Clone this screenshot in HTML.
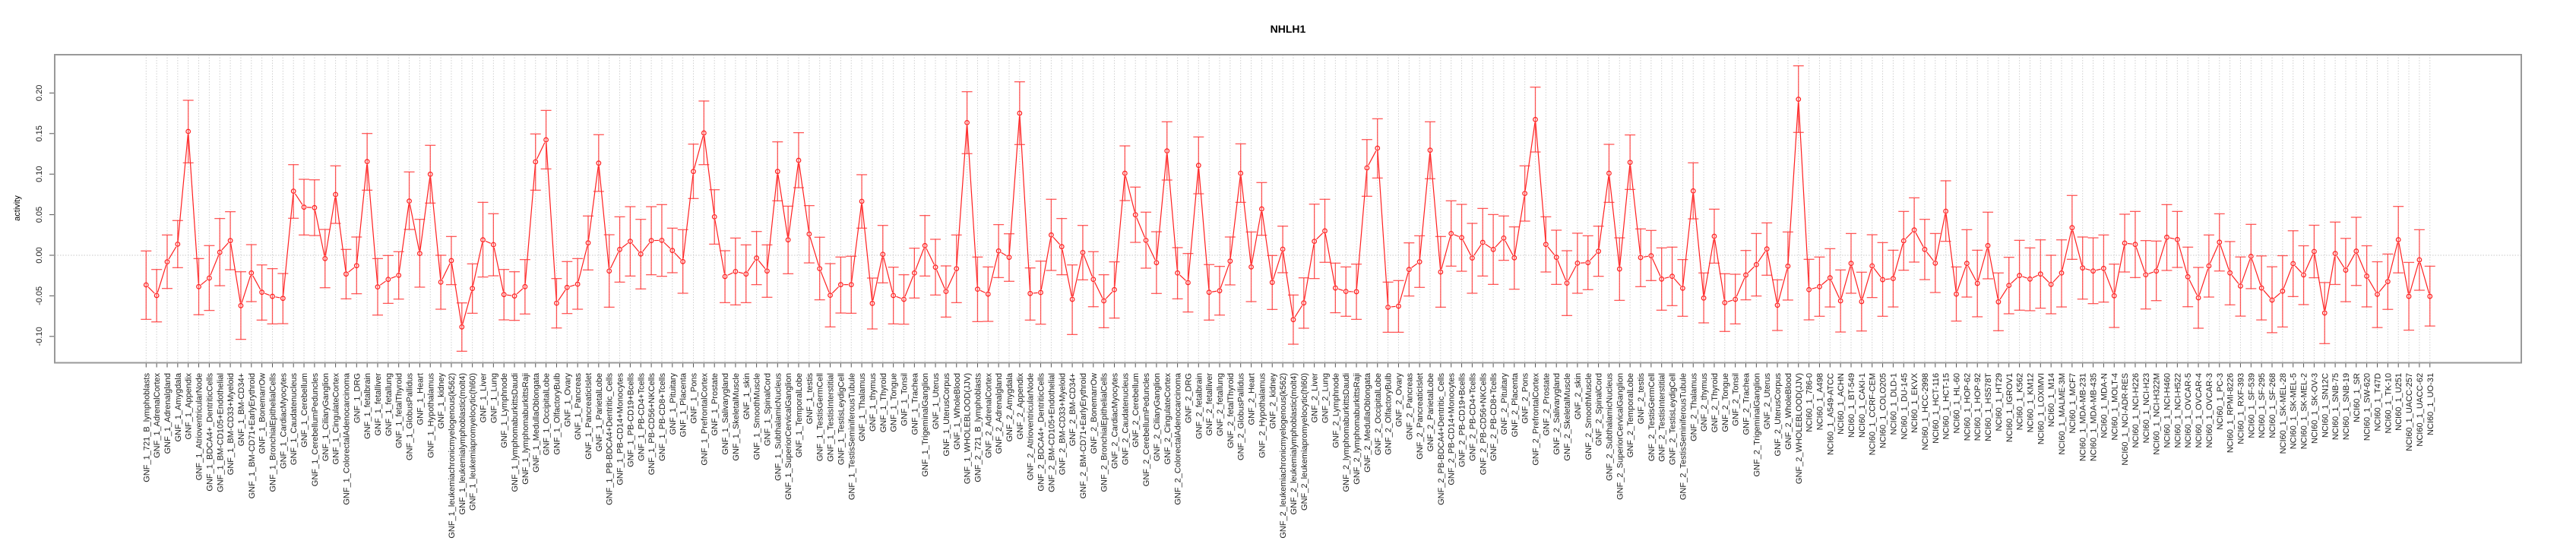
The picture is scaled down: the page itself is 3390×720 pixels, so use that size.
<!DOCTYPE html>
<html><head><meta charset="utf-8"><title>NHLH1</title>
<style>
html,body{margin:0;padding:0;background:#fff;}
svg{display:block;font-family:"Liberation Sans",Arial,sans-serif;}
</style></head>
<body>
<svg id="chart" width="3390" height="720" viewBox="0 0 3390 720" xmlns="http://www.w3.org/2000/svg">
<text x="1695" y="43" text-anchor="middle" font-size="14" font-weight="bold">NHLH1</text>
<text transform="translate(26,274) rotate(-90)" text-anchor="middle" font-size="11">activity</text>
<g id="grid"></g>
<g id="yaxis"></g>
<g id="xaxis"></g>
<g id="series"></g>
<rect x="72" y="72" width="3246" height="405.5" fill="none" stroke="#999" stroke-width="2"/>
</svg>
<script>
const tissues = ["721_B_lymphoblasts","AdrenalCortex","Adrenalgland","Amygdala","Appendix","AtrioventricularNode","BDCA4+_DentriticCells","BM-CD105+Endothelial","BM-CD33+Myeloid","BM-CD34+","BM-CD71+EarlyErythroid","BonemarrOw","BronchialEpithelialCells","CardiacMyocytes","Caudatenucleus","Cerebellum","CerebellumPeduncles","CiliaryGanglion","CingulateCortex","ColorectalAdenocarcinoma","DRG","fetalbrain","fetalliver","fetallung","fetalThyroid","GlobusPallidus","Heart","Hypothalamus","kidney","leukemiachronicmyelogenous(k562)","leukemialymphoblastic(molt4)","leukemiapromyelocytic(hl60)","Liver","Lung","Lymphnode","lymphomaburkittsDaudi","lymphomaburkittsRaji","MedullaOblongata","OccipitalLobe","OlfactoryBulb","Ovary","Pancreas","PancreaticIslet","ParietalLobe","PB-BDCA4+Dentritic_Cells","PB-CD14+Monocytes","PB-CD19+Bcells","PB-CD4+Tcells","PB-CD56+NKCells","PB-CD8+Tcells","Pituitary","Placenta","Pons","PrefrontalCortex","Prostate","Salivarygland","SkeletalMuscle","skin","SmoothMuscle","SpinalCord","SubthalamicNucleus","SuperiorCervicalGanglion","TemporalLobe","testis","TestisGermCell","TestisInterstitial","TestisLeydigCell","TestisSeminiferousTubule","Thalamus","thymus","Thyroid","Tongue","Tonsil","Trachea","TrigeminalGanglion","Uterus","UterusCorpus","WholeBlood","WHOLEBLOOD(JJV)"];
const nci60 = ["786-0","A498","A549-ATCC","ACHN","BT-549","CAKI-1","CCRF-CEM","COLO205","DLD-1","DU-145","EKVX","HCC-2998","HCT-116","HCT-15","HL-60","HOP-62","HOP-92","HS578T","HT29","IGROV1","K562","KM12","LOXIMVI","M14","MALME-3M","MCF7","MDA-MB-231","MDA-MB-435","MDA-N","MOLT-4","NCI-ADR-RES","NCI-H226","NCI-H23","NCI-H322M","NCI-H460","NCI-H522","OVCAR-5","OVCAR-4","OVCAR-3","PC-3","RPMI-8226","RXF-393","SF-539","SF-295","SF-268","SK-MEL-28","SK-MEL-5","SK-MEL-2","SK-OV-3","SN12C","SNB-75","SNB-19","SR","SW-620","T47D","TK-10","U251","UACC-257","UACC-62","UO-31"];
const categories = tissues.map(t => "GNF_1_" + t).concat(tissues.map(t => "GNF_2_" + t)).concat(nci60.map(t => "NCI60_1_" + t));

const means = [-0.0365,-0.0496,-0.0081,0.0137,0.1526,-0.0387,-0.0281,0.0037,0.0181,-0.0621,-0.0218,-0.0456,-0.0506,-0.0531,0.0790,0.0593,0.0587,-0.0041,0.0749,-0.0231,
-0.0128,0.1155,-0.0390,-0.0297,-0.0247,0.0668,0.0022,0.0999,-0.0331,-0.0066,-0.0883,-0.0409,0.0190,0.0131,-0.0484,-0.0502,-0.0387,0.1152,0.1423,-0.0590,
-0.0396,-0.0356,0.0153,0.1136,-0.0194,0.0072,0.0172,0.0016,0.0181,0.0184,0.0059,-0.0078,0.1033,0.1507,0.0474,-0.0262,-0.0200,-0.0231,-0.0034,-0.0194,
0.1033,0.0190,0.1170,0.0262,-0.0165,-0.0493,-0.0362,-0.0362,0.0665,-0.0593,0.0012,-0.0496,-0.0543,-0.0218,0.0119,-0.0147,-0.0446,-0.0165,0.1635,-0.0418,
-0.0478,0.0053,-0.0025,0.1751,-0.0471,-0.0459,0.0250,0.0106,-0.0543,0.0034,-0.0297,-0.0562,-0.0424,0.1011,0.0499,0.0184,-0.0091,0.1286,-0.0218,-0.0337,
0.1108,-0.0456,-0.0437,-0.0072,0.1011,-0.0144,0.0571,-0.0334,0.0075,-0.0793,-0.0587,0.0172,0.0300,-0.0403,-0.0446,-0.0449,0.1077,0.1320,-0.0640,-0.0627,
-0.0175,-0.0081,0.1295,-0.0206,0.0268,0.0218,-0.0034,0.0159,0.0072,0.0212,-0.0031,0.0762,0.1673,0.0134,-0.0025,-0.0343,-0.0097,-0.0091,0.0050,0.1011,
-0.0169,0.1145,-0.0028,-0.0006,-0.0293,-0.0259,-0.0406,0.0793,-0.0527,0.0234,-0.0584,-0.0543,-0.0243,-0.0115,0.0078,-0.0615,-0.0134,0.1923,-0.0424,-0.0387,
-0.0278,-0.0562,-0.0100,-0.0571,-0.0131,-0.0300,-0.0287,0.0178,0.0312,0.0072,-0.0097,0.0543,-0.0478,-0.0100,-0.0346,0.0119,-0.0574,-0.0371,-0.0250,-0.0293,
-0.0231,-0.0359,-0.0218,0.0340,-0.0156,-0.0194,-0.0162,-0.0499,0.0150,0.0134,-0.0240,-0.0194,0.0222,0.0194,-0.0265,-0.0524,-0.0131,0.0161,-0.0217,-0.0379,
-0.0013,-0.0403,-0.0552,-0.0442,-0.0103,-0.0242,0.0047,-0.0711,0.0022,-0.0183,0.0051,-0.0257,-0.0481,-0.0324,0.0192,-0.0506,-0.0056,-0.0506];

const uppers = [0.0053,-0.0175,0.0250,0.0428,0.1910,-0.0041,0.0119,0.0453,0.0537,-0.0203,0.0131,-0.0119,-0.0165,-0.0225,0.1117,0.0936,0.0930,0.0318,0.1102,0.0072,
0.0225,0.1501,-0.0041,-0.0003,0.0044,0.1027,0.0443,0.1355,0.0000,0.0231,-0.0587,-0.0106,0.0652,0.0512,-0.0175,-0.0203,-0.0053,0.1495,0.1785,-0.0287,
-0.0078,-0.0041,0.0484,0.1486,0.0253,0.0474,0.0599,0.0443,0.0599,0.0624,0.0334,0.0315,0.1370,0.1901,0.0808,0.0056,0.0212,0.0128,0.0293,0.0128,
0.1398,0.0605,0.1511,0.0612,0.0222,-0.0103,-0.0022,-0.0012,0.0993,-0.0281,0.0368,-0.0147,-0.0240,0.0087,0.0490,0.0197,-0.0131,0.0250,0.2016,-0.0022,
-0.0144,0.0378,0.0265,0.2138,-0.0156,-0.0072,0.0690,0.0453,-0.0119,0.0368,0.0044,-0.0240,-0.0081,0.1348,0.0840,0.0531,0.0290,0.1645,0.0094,0.0022,
0.1458,-0.0115,-0.0137,0.0225,0.1373,0.0287,0.0896,-0.0003,0.0359,-0.0490,-0.0278,0.0630,0.0690,-0.0097,-0.0144,-0.0109,0.1426,0.1682,-0.0331,-0.0312,
0.0153,0.0240,0.1645,0.0231,0.0671,0.0627,0.0393,0.0577,0.0502,0.0484,0.0350,0.1102,0.2072,0.0474,0.0309,0.0056,0.0272,0.0240,0.0359,0.1367,
0.0215,0.1483,0.0325,0.0306,0.0091,0.0100,-0.0053,0.1139,-0.0218,0.0568,-0.0228,-0.0234,0.0059,0.0268,0.0399,-0.0303,0.0287,0.2335,-0.0050,-0.0022,
0.0081,-0.0181,0.0268,-0.0209,0.0253,0.0156,0.0062,0.0540,0.0708,0.0443,0.0268,0.0918,-0.0144,0.0315,0.0062,0.0531,-0.0218,-0.0025,0.0184,0.0091,
0.0190,0.0000,0.0190,0.0737,0.0225,0.0215,0.0250,-0.0109,0.0506,0.0540,0.0181,0.0175,0.0624,0.0540,0.0100,-0.0150,0.0250,0.0511,0.0169,-0.0021,
0.0381,-0.0008,-0.0142,-0.0005,0.0302,0.0117,0.0370,-0.0336,0.0409,0.0208,0.0468,0.0117,-0.0080,0.0015,0.0602,-0.0088,0.0315,-0.0135];

const lowers = [-0.0790,-0.0821,-0.0409,-0.0153,0.1139,-0.0733,-0.0680,-0.0375,-0.0178,-0.1036,-0.0571,-0.0799,-0.0846,-0.0843,0.0456,0.0250,0.0243,-0.0400,0.0393,-0.0537,
-0.0474,0.0802,-0.0737,-0.0593,-0.0540,0.0318,-0.0393,0.0643,-0.0665,-0.0362,-0.1183,-0.0715,-0.0268,-0.0253,-0.0796,-0.0802,-0.0724,0.0802,0.1064,-0.0896,
-0.0718,-0.0665,-0.0181,0.0787,-0.0640,-0.0331,-0.0256,-0.0415,-0.0240,-0.0259,-0.0215,-0.0468,0.0699,0.1117,0.0137,-0.0584,-0.0612,-0.0584,-0.0362,-0.0518,
0.0671,-0.0228,0.0833,-0.0094,-0.0549,-0.0883,-0.0712,-0.0715,0.0334,-0.0908,-0.0340,-0.0846,-0.0849,-0.0527,-0.0256,-0.0490,-0.0762,-0.0584,0.1252,-0.0818,
-0.0815,-0.0275,-0.0321,0.1364,-0.0799,-0.0849,-0.0187,-0.0240,-0.0977,-0.0303,-0.0634,-0.0893,-0.0774,0.0674,0.0159,-0.0159,-0.0471,0.0927,-0.0537,-0.0699,
0.0758,-0.0799,-0.0737,-0.0365,0.0652,-0.0571,0.0247,-0.0668,-0.0215,-0.1096,-0.0899,-0.0287,-0.0087,-0.0708,-0.0752,-0.0790,0.0727,0.0952,-0.0949,-0.0949,
-0.0502,-0.0396,0.0943,-0.0640,-0.0134,-0.0197,-0.0468,-0.0256,-0.0359,-0.0062,-0.0418,0.0421,0.1273,-0.0206,-0.0359,-0.0743,-0.0468,-0.0424,-0.0259,0.0652,
-0.0556,0.0811,-0.0387,-0.0312,-0.0677,-0.0621,-0.0752,0.0449,-0.0833,-0.0097,-0.0939,-0.0846,-0.0549,-0.0502,-0.0246,-0.0927,-0.0552,0.1514,-0.0796,-0.0752,
-0.0637,-0.0946,-0.0468,-0.0933,-0.0521,-0.0752,-0.0637,-0.0184,-0.0084,-0.0300,-0.0459,0.0172,-0.0811,-0.0515,-0.0758,-0.0290,-0.0930,-0.0721,-0.0677,-0.0683,
-0.0652,-0.0721,-0.0637,-0.0050,-0.0540,-0.0596,-0.0577,-0.0890,-0.0206,-0.0275,-0.0662,-0.0559,-0.0187,-0.0150,-0.0634,-0.0899,-0.0515,-0.0194,-0.0611,-0.0750,
-0.0411,-0.0797,-0.0954,-0.0884,-0.0509,-0.0608,-0.0277,-0.1089,-0.0360,-0.0572,-0.0372,-0.0636,-0.0891,-0.0667,-0.0217,-0.0923,-0.0431,-0.0872];

const yTicks = [-0.10,-0.05,0.00,0.05,0.10,0.15,0.20];
const yTickLabels = ["-0.10","-0.05","0.00","0.05","0.10","0.15","0.20"];

const NS = "http://www.w3.org/2000/svg";
const PLOT = {left:72, top:72, right:3318, bottom:477.5};
function xScale(i){ return 192.3 + 13.85 * i; }
function yScale(v){ return 336 - v * 1068; }
function mk(tag, attrs, parent){
  const el = document.createElementNS(NS, tag);
  for (const k in attrs) el.setAttribute(k, attrs[k]);
  parent.appendChild(el);
  return el;
}
const grid = document.getElementById("grid");
const yaxis = document.getElementById("yaxis");
const xaxis = document.getElementById("xaxis");
const series = document.getElementById("series");

// horizontal zero line
const z = mk("line", {x1:PLOT.left, x2:PLOT.right, y1:yScale(0), y2:yScale(0), stroke:"#c8c8c8", "stroke-width":1, "stroke-dasharray":"1.5,2"}, grid);



// y ticks
yTicks.forEach((t, k) => {
  const y = yScale(t);
  const tk = mk("line", {x1:PLOT.left-7, x2:PLOT.left, y1:y, y2:y, stroke:"#555", "stroke-width":1}, yaxis);
  
  
  const lb = mk("text", {transform:"translate(55," + y + ") rotate(-90)", "text-anchor":"middle", "font-size":11, fill:"#222"}, yaxis);
  lb.textContent = yTickLabels[k];
  
  
});

// categories: grid lines, x ticks, labels
categories.forEach((c, i) => {
  const x = xScale(i);
  const g = mk("line", {x1:x, x2:x, y1:PLOT.top, y2:PLOT.bottom, stroke:"#d0d0d0", "stroke-width":1, "stroke-dasharray":"1.5,2"}, grid);
  
  
  const tk = mk("line", {x1:x, x2:x, y1:PLOT.bottom, y2:PLOT.bottom+6, stroke:"#555", "stroke-width":1}, xaxis);
  
  
  const lb = mk("text", {transform:"translate(" + (x+4) + ",491) rotate(-90)", "text-anchor":"end", "font-size":11, fill:"#222"}, xaxis);
  lb.textContent = c;
  
  
});

// connecting lines (type b: gaps around points)
for (let i = 0; i < means.length - 1; i++) {
  const x1 = xScale(i), y1 = yScale(means[i]), x2 = xScale(i+1), y2 = yScale(means[i+1]);
  const dx = x2-x1, dy = y2-y1, d = Math.hypot(dx, dy), r = 4;
  if (d <= 2*r) continue;
  const seg = mk("line", {x1:x1+dx*r/d, y1:y1+dy*r/d, x2:x2-dx*r/d, y2:y2-dy*r/d, stroke:"#ff2020", "stroke-width":1.2}, series);
  
  
}

// error bars + points
means.forEach((m, i) => {
  const x = xScale(i), yu = yScale(uppers[i]), yl = yScale(lowers[i]);
  const eb = mk("g", {stroke:"#ff3030", "stroke-width":1.3, "stroke-opacity":0.8}, series);
  
  
  mk("line", {x1:x, x2:x, y1:yu, y2:yl}, eb);
  mk("line", {x1:x-7, x2:x+7, y1:yu, y2:yu}, eb);
  mk("line", {x1:x-7, x2:x+7, y1:yl, y2:yl}, eb);
  const pt = mk("circle", {cx:x, cy:yScale(m), r:2.8, fill:"none", stroke:"#ff2020", "stroke-width":1.2}, series);
  
  
});
</script>
</body></html>
